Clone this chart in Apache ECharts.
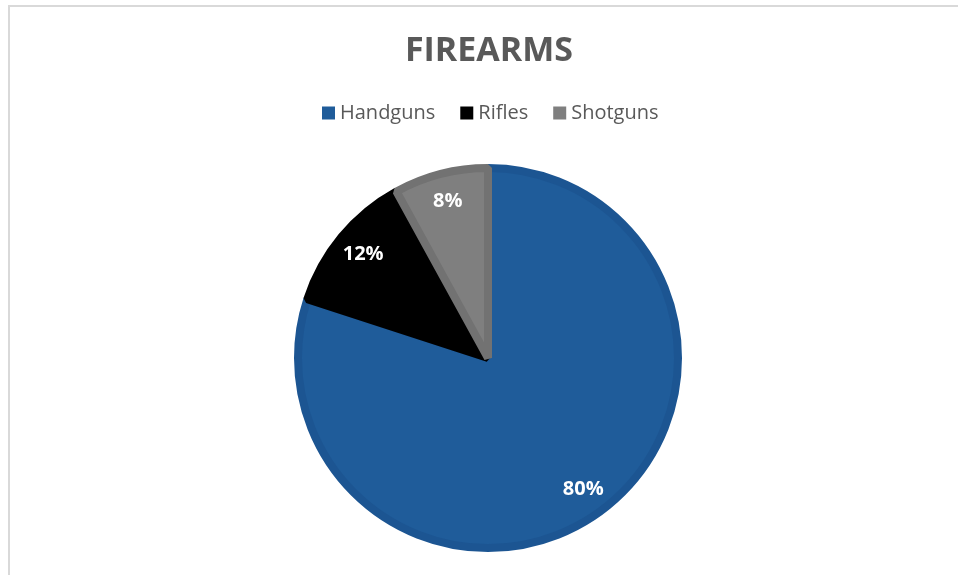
<!DOCTYPE html>
<html>
<head>
<meta charset="utf-8">
<script src="https://cdn.jsdelivr.net/npm/echarts@6/dist/echarts.min.js"></script>
<style>
  html, body { margin: 0; padding: 0; background: #fff; }
  #frame { position: absolute; left: 8px; top: 5px; width: 960px; height: 580px; border: 2px solid #d9d9d9; box-sizing: border-box; }
  #main { position: absolute; left: 0; top: 0; width: 958px; height: 575px; }
</style>
</head>
<body>
<div id="frame"></div>
<div id="main"></div>
<script>
// 数据
var categories = ['Handguns', 'Rifles', 'Shotguns'];
var shares = [80, 12, 8];
var fillColors = ['#1F5C9A', '#000000', '#7F7F7F'];
var rimColors = ['#1C5592', '#000000', '#727272'];

var chart = echarts.init(document.getElementById('main'));

var sliceData = categories.map(function (name, i) {
  return {
    name: name,
    value: shares[i],
    itemStyle: { color: fillColors[i], borderColor: rimColors[i] }
  };
});

// 只用来放百分比标签的透明环
var labelData = categories.map(function (name, i) {
  return { name: name, value: shares[i] };
});

var option = {
  title: {
    text: 'FIREARMS',
    left: 484,
    textAlign: 'center',
    top: 29,
    textStyle: {
      fontFamily: 'Open Sans',
      fontWeight: 'bold',
      fontSize: 34,
      color: '#595959'
    }
  },
  legend: {
    data: categories,
    top: 98,
    left: 317,
    icon: 'rect',
    itemWidth: 13,
    itemHeight: 13,
    itemGap: 25,
    itemStyle: { borderWidth: 0 },
    textStyle: {
      fontFamily: 'Open Sans',
      fontSize: 20,
      color: '#595959'
    }
  },
  series: [{
    type: 'pie',
    center: [488, 358],
    radius: [0, 190],
    startAngle: 90,
    clockwise: true,
    silent: true,
    itemStyle: { borderWidth: 8, borderJoin: 'bevel' },
    label: { show: false },
    labelLine: { show: false },
    data: sliceData
  }, {
    type: 'pie',
    center: [488, 358],
    radius: [124, 194],
    startAngle: 90,
    clockwise: true,
    silent: true,
    itemStyle: { color: 'transparent', borderWidth: 0 },
    label: {
      show: true,
      position: 'inside',
      formatter: '{c}%',
      fontFamily: 'Open Sans',
      fontWeight: 'bold',
      fontSize: 20,
      color: '#ffffff'
    },
    labelLine: { show: false },
    data: labelData
  }]
};

chart.setOption(option);
</script>
</body>
</html>
